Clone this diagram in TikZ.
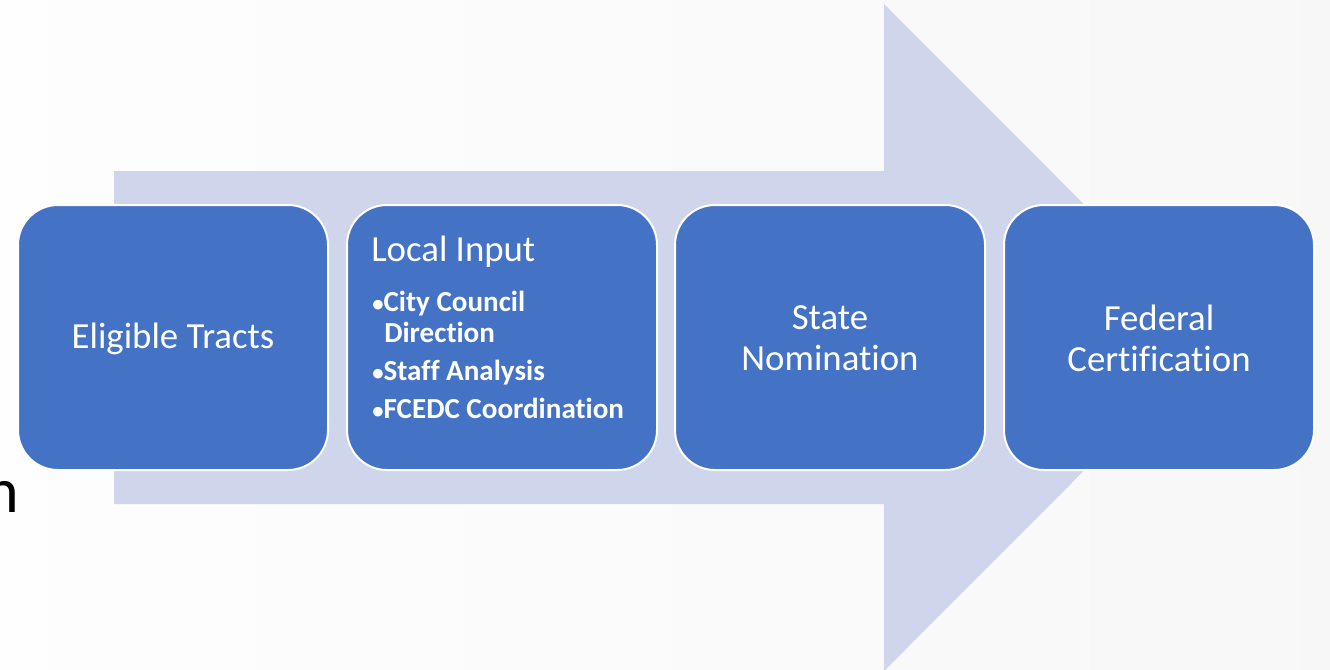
\documentclass[tikz,border=0pt]{standalone}
\usepackage{fontspec}
\setmainfont{Carlito}[RawFeature={-liga;-clig;-dlig;-calt}]
\usepackage{xcolor}
\usepackage{tikz}

\definecolor{stageblue}{HTML}{4472C4}
\definecolor{arrowfill}{HTML}{CFD5EA}

\newcommand{\dotmark}{{\fontsize{17}{17}\selectfont •}}

\begin{document}
\begin{tikzpicture}[x=0.75pt, y=-0.75pt,
  stage/.style={fill=stageblue, draw=white, line width=1.5pt, rounded corners=30pt,
    minimum width=232.5pt, minimum height=198.75pt},
  stagetext/.style={text=white, font=\fontsize{27.6}{30.75}\selectfont, align=center, inner sep=0pt},
  bullet/.style={text=white, font=\fontsize{21.8}{26}\selectfont\bfseries, inner sep=0pt, anchor=base west}]

% page and background
\useasboundingbox (0,0) rectangle (1330,669);
\fill[left color=gray!1, right color=gray!6] (0,0) rectangle (1330,669);

% big arrow behind the stages
\fill[arrowfill] (114,171) -- (884,171) -- (884,4) -- (1217,337.5)
  -- (884,671) -- (884,504) -- (114,504) -- cycle;

% cut off letter at the left edge
\node[font=\fontsize{48}{48}\selectfont, anchor=base east, inner sep=0pt] (cut) at (19,512) {n};

% stages
\node[stage] (tracts)  at (173,337.5) {};
\node[stage] (local)   at (502,337.5) {};
\node[stage] (state)   at (830,337.5) {};
\node[stage] (federal) at (1159,337.5) {};

\node[stagetext] (tractstext) at (173,339) {Eligible Tracts};
\node[stagetext] (statetext) at (830,338) {State\\Nomination};
\node[stagetext] (federaltext) at (1159,338) {Federal\\Certification};

\node[stagetext, anchor=base west] (localtext) at (371,261) {Local Input};
\node[bullet] (itemA)  at (372,311) {\dotmark City Council};
\node[bullet] (itemAb) at (384,342) {Direction};
\node[bullet] (itemB)  at (372,380) {\dotmark Staff Analysis};
\node[bullet] (itemC)  at (372,418) {\dotmark FCEDC Coordination};

\end{tikzpicture}
\end{document}
